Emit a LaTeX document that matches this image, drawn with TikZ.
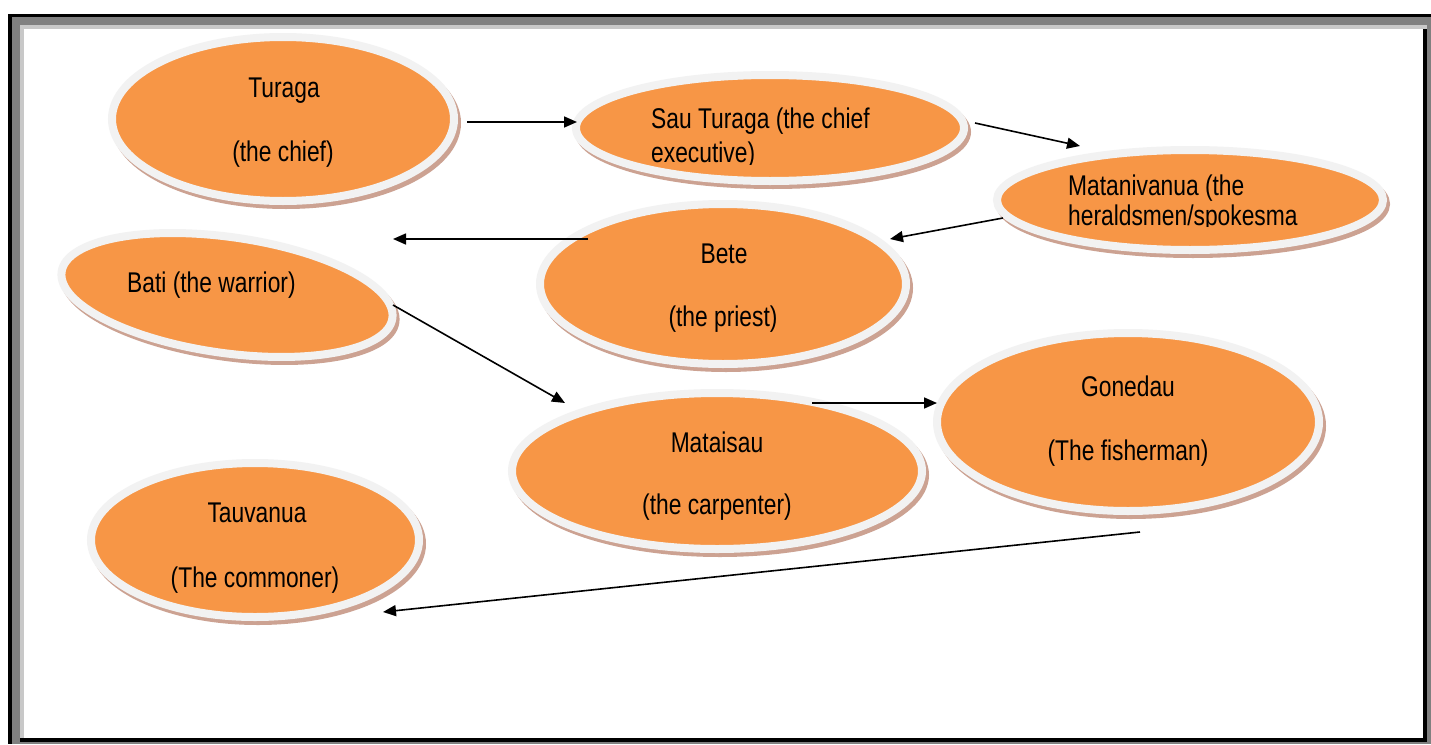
\documentclass[tikz,border=0pt]{standalone}
\usepackage{fontspec}
\setmainfont{Liberation Sans}[FakeStretch=0.8]
\usetikzlibrary{arrows.meta,shadows,shapes.geometric}
\definecolor{orng}{RGB}{247,150,70}
\definecolor{rim}{RGB}{242,242,242}
\definecolor{shad}{RGB}{204,162,146}
\definecolor{gA}{RGB}{128,128,128}
\definecolor{gB}{RGB}{200,200,200}
\begin{document}
\begin{tikzpicture}[x=1pt,y=-1pt,
  oval/.style={ellipse, draw=rim, line width=8pt, fill=orng, inner sep=0pt,
     drop shadow={shadow xshift=3pt, shadow yshift=-4pt, opacity=1, fill=shad, draw=shad, line width=8pt}},
  lbl/.style={inner sep=0pt, anchor=base, font=\fontsize{28.5}{34}\selectfont},
  lbll/.style={lbl, anchor=base west},
  arr/.style={-{Triangle[length=13pt,width=11pt]}, line width=1.6pt}]
\useasboundingbox (0,0) rectangle (1431,744);
\fill[white] (0,0) rectangle (1431,744);
% page border
\fill[gA] (12,17) rectangle (1431,744);
\fill[black] (8,14) rectangle (1431,17);
\fill[black] (8,14) rectangle (12,744);
\fill[gB] (20,25) rectangle (1427,738);
\fill[black] (20,738) rectangle (1427,742);
\fill[black] (1423,29) rectangle (1427,742);
\fill[white] (24,29) rectangle (1423,738);

% ovals
\node[oval, minimum width=342pt, minimum height=164pt] (tur) at (283,119) {};
\node[oval, minimum width=388pt, minimum height=106pt] (sau) at (770,128) {};
\node[oval, minimum width=386pt, minimum height=100pt] (mat) at (1190,200) {};
\node[oval, minimum width=366pt, minimum height=160pt] (bete) at (723,284) {};
\node[oval, minimum width=334pt, minimum height=116pt, rotate=-8] (bati) at (227,295) {};
\node[oval, minimum width=410pt, minimum height=156pt] (mts) at (717,471) {};
\node[oval, minimum width=382pt, minimum height=178pt] (gon) at (1128,422) {};
\node[oval, minimum width=328pt, minimum height=154pt] (tau) at (255,540) {};

% texts
\node[lbl] (tur-a) at (284,97) {Turaga};
\node[lbl] (tur-b) at (283,161) {(the chief)};
\node[lbll] (sau-a) at (651,128) {Sau Turaga (the chief};
\begin{scope}
\clip (600,130) rectangle (960,164.5);
\node[lbll] (sau-b) at (651,162) {executive)};
\end{scope}
\node[lbll] (mat-a) at (1068,195) {Matanivanua (the};
\begin{scope}
\clip (1000,197) rectangle (1380,226);
\node[lbll] (mat-b) at (1068,225) {heraldsmen/spokesma};
\end{scope}
\node[lbl] (bete-a) at (724,263) {Bete};
\node[lbl] (bete-b) at (723,326) {(the priest)};
\node[lbll] (bati-a) at (127,292) {Bati (the warrior)};
\node[lbl] (mts-a) at (717,452) {Mataisau};
\node[lbl] (mts-b) at (717,514) {(the carpenter)};
\node[lbl] (gon-a) at (1128,396) {Gonedau};
\node[lbl] (gon-b) at (1128,460) {(The fisherman)};
\node[lbl] (tau-a) at (257,522) {Tauvanua};
\node[lbl] (tau-b) at (255,587) {(The commoner)};

% connector ends
\coordinate (a1s) at (467,122); \coordinate (a1e) at (577,122);
\coordinate (a2s) at (975,123); \coordinate (a2e) at (1080,146);
\coordinate (a3s) at (1003,218); \coordinate (a3e) at (890,239);
\coordinate (a4s) at (588,239); \coordinate (a4e) at (393,239);
\coordinate (a5s) at (393,305); \coordinate (a5e) at (565,403);
\coordinate (a6s) at (812,403); \coordinate (a6e) at (937,403);
\coordinate (a7s) at (1140,532); \coordinate (a7e) at (383,612);

\draw[arr] (a1s) -- (a1e);
\draw[arr] (a2s) -- (a2e);
\draw[arr] (a3s) -- (a3e);
\draw[arr] (a4s) -- (a4e);
\draw[arr] (a5s) -- (a5e);
\draw[arr] (a6s) -- (a6e);
\draw[arr] (a7s) -- (a7e);
\end{tikzpicture}
\end{document}
